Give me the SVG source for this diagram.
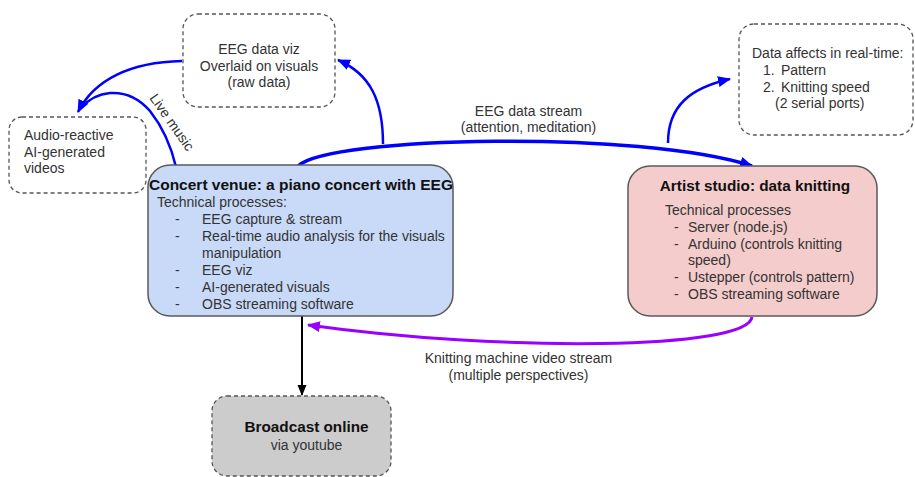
<svg xmlns="http://www.w3.org/2000/svg" width="915" height="477" viewBox="0 0 915 477">
<style>
text{font-family:"Liberation Sans",Arial,sans-serif;font-size:14px;fill:#333333}
.b{font-weight:bold;font-size:15.3px;fill:#111111}
.m{text-anchor:middle}
.dash{fill:#ffffff;stroke:#555555;stroke-width:1.3;stroke-dasharray:4 3}
.solid{stroke:#595959;stroke-width:1.5}
.blue{fill:none;stroke:#0000ff;stroke-width:2.5}
.purple{fill:none;stroke:#9900ff;stroke-width:3}
.black{fill:none;stroke:#000000;stroke-width:2}
</style>
<defs>
<marker id="ab" markerUnits="userSpaceOnUse" markerWidth="14" markerHeight="12" refX="12" refY="5.5" orient="auto"><path d="M0,0 L13,5.5 L0,11 z" fill="#0000ff"/></marker>
<marker id="ap" markerUnits="userSpaceOnUse" markerWidth="14" markerHeight="12" refX="12" refY="5.5" orient="auto"><path d="M0,0 L13,5.5 L0,11 z" fill="#9900ff"/></marker>
<marker id="ak" markerUnits="userSpaceOnUse" markerWidth="12" markerHeight="10" refX="10" refY="4.5" orient="auto"><path d="M0,0 L11,4.5 L0,9 z" fill="#000000"/></marker>
</defs>
<rect width="915" height="477" fill="#ffffff"/>

<g id="connectors">
<path class="blue" style="stroke-width:3.5" d="M298,166 C330,136 640,130 752,166" marker-end="url(#ab)"/>
<path class="blue" d="M383,144 C383,100 370,74 338,60" marker-end="url(#ab)"/>
<path class="blue" d="M668,143 C668,106 690,88 730,79" marker-end="url(#ab)"/>
<path class="blue" d="M182,61 C130,62 94,80 78,112" marker-end="url(#ab)"/>
<path class="blue" d="M176,167 C172,150 165,130 150,111 C138,97 125,92 110,93 C98,94 88,100 81,108"/>
<path class="purple" d="M752,317 C748,350 500,352 308,325" marker-end="url(#ap)"/>
<path class="black" d="M302,316 L302,395" marker-end="url(#ak)"/>
<text x="528.5" y="116" class="m">EEG data stream</text>
<text x="528.5" y="132" class="m">(attention, meditation)</text>
<text x="518.5" y="363" class="m">Knitting machine video stream</text>
<text x="518.5" y="380" class="m">(multiple perspectives)</text>
<text x="0" y="0" transform="translate(168,125) rotate(55)" class="m">Live music</text>
</g>

<g id="eeg-viz">
<rect class="dash" x="183" y="14" width="152" height="93" rx="15"/>
<text x="259" y="54" class="m">EEG data viz</text>
<text x="259" y="71" class="m">Overlaid on visuals</text>
<text x="259" y="87" class="m">(raw data)</text>
</g>

<g id="audio-reactive">
<rect class="dash" x="9" y="117" width="137" height="76" rx="13"/>
<text x="24" y="140">Audio-reactive</text>
<text x="24" y="156.5">AI-generated</text>
<text x="24" y="173">videos</text>
</g>

<g id="data-affects">
<rect class="dash" x="739" y="24" width="174" height="111" rx="15"/>
<text x="752" y="58">Data affects in real-time:</text>
<text x="763" y="75">1.</text><text x="781" y="75">Pattern</text>
<text x="763" y="92">2.</text><text x="781" y="92">Knitting speed</text>
<text x="775" y="108">(2 serial ports)</text>
</g>

<g id="concert-venue">
<rect class="solid" x="148" y="165" width="305" height="151" rx="22" fill="#c9daf8"/>
<text x="301" y="190" class="b m" style="font-size:15.5px">Concert venue: a piano concert with EEG</text>
<text x="157" y="207">Technical processes:</text>
<text x="175" y="224">-</text><text x="202" y="224">EEG capture &amp; stream</text>
<text x="175" y="241">-</text><text x="202" y="241">Real-time audio analysis for the visuals</text>
<text x="202" y="258">manipulation</text>
<text x="175" y="275">-</text><text x="202" y="275">EEG viz</text>
<text x="175" y="292">-</text><text x="202" y="292">AI-generated visuals</text>
<text x="175" y="309">-</text><text x="202" y="309">OBS streaming software</text>
</g>

<g id="artist-studio">
<rect class="solid" x="628" y="166" width="249" height="150" rx="22" fill="#f4cccc"/>
<text x="755" y="191" class="b m">Artist studio: data knitting</text>
<text x="665" y="215">Technical processes</text>
<text x="674" y="232">-</text><text x="688" y="232">Server (node.js)</text>
<text x="674" y="248.5">-</text><text x="688" y="248.5">Arduino (controls knitting</text>
<text x="688" y="265">speed)</text>
<text x="674" y="282">-</text><text x="688" y="282">Ustepper (controls pattern)</text>
<text x="674" y="299">-</text><text x="688" y="299">OBS streaming software</text>
</g>

<g id="broadcast">
<rect class="dash" x="212" y="396" width="179" height="80" rx="15" style="fill:#cccccc"/>
<text x="306.5" y="432" class="b m">Broadcast online</text>
<text x="306.5" y="450" class="m">via youtube</text>
</g>
</svg>
